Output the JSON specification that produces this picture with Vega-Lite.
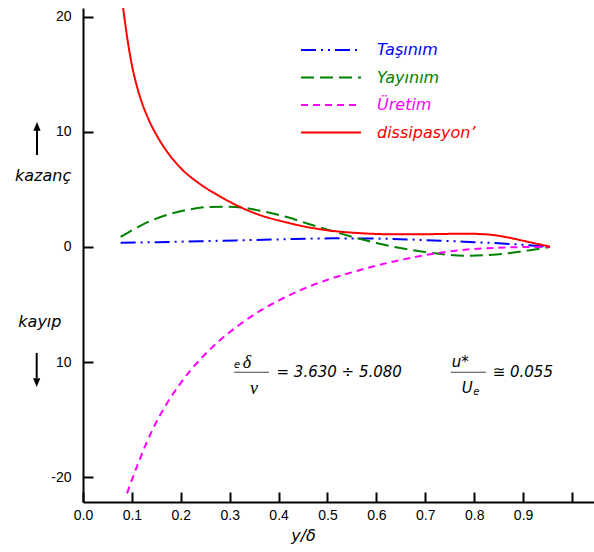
{
  "$schema": "https://vega.github.io/schema/vega-lite/v6.json",
  "autosize": {"type": "none"},
  "padding": {"left": 83, "top": 8, "right": 0, "bottom": 50},
  "width": 511,
  "height": 494,
  "background": "white",
  "config": {"view": {"stroke": null}},
  "datasets": {
    "curves": [
      {"x": 0.077, "y": 0.37, "series": "Taşınım"},
      {"x": 0.15, "y": 0.42, "series": "Taşınım"},
      {"x": 0.26, "y": 0.52, "series": "Taşınım"},
      {"x": 0.4, "y": 0.66, "series": "Taşınım"},
      {"x": 0.51, "y": 0.75, "series": "Taşınım"},
      {"x": 0.6, "y": 0.73, "series": "Taşınım"},
      {"x": 0.7, "y": 0.6, "series": "Taşınım"},
      {"x": 0.78, "y": 0.46, "series": "Taşınım"},
      {"x": 0.887, "y": 0.23, "series": "Taşınım"},
      {"x": 0.955, "y": 0.0, "series": "Taşınım"},
      {"x": 0.077, "y": 0.87, "series": "Yayınım"},
      {"x": 0.1, "y": 1.45, "series": "Yayınım"},
      {"x": 0.123, "y": 1.97, "series": "Yayınım"},
      {"x": 0.171, "y": 2.78, "series": "Yayınım"},
      {"x": 0.21, "y": 3.2, "series": "Yayınım"},
      {"x": 0.26, "y": 3.48, "series": "Yayınım"},
      {"x": 0.3, "y": 3.5, "series": "Yayınım"},
      {"x": 0.33, "y": 3.4, "series": "Yayınım"},
      {"x": 0.37, "y": 3.08, "series": "Yayınım"},
      {"x": 0.417, "y": 2.6, "series": "Yayınım"},
      {"x": 0.46, "y": 2.02, "series": "Yayınım"},
      {"x": 0.51, "y": 1.38, "series": "Yayınım"},
      {"x": 0.56, "y": 0.77, "series": "Yayınım"},
      {"x": 0.6, "y": 0.35, "series": "Yayınım"},
      {"x": 0.64, "y": -0.02, "series": "Yayınım"},
      {"x": 0.71, "y": -0.49, "series": "Yayınım"},
      {"x": 0.78, "y": -0.76, "series": "Yayınım"},
      {"x": 0.846, "y": -0.65, "series": "Yayınım"},
      {"x": 0.914, "y": -0.28, "series": "Yayınım"},
      {"x": 0.955, "y": 0.0, "series": "Yayınım"},
      {"x": 0.09, "y": -21.4, "series": "Üretim"},
      {"x": 0.11, "y": -19.1, "series": "Üretim"},
      {"x": 0.13, "y": -17.0, "series": "Üretim"},
      {"x": 0.15, "y": -15.2, "series": "Üretim"},
      {"x": 0.17, "y": -13.7, "series": "Üretim"},
      {"x": 0.2, "y": -11.8, "series": "Üretim"},
      {"x": 0.24, "y": -9.75, "series": "Üretim"},
      {"x": 0.28, "y": -8.1, "series": "Üretim"},
      {"x": 0.32, "y": -6.75, "series": "Üretim"},
      {"x": 0.36, "y": -5.6, "series": "Üretim"},
      {"x": 0.4, "y": -4.65, "series": "Üretim"},
      {"x": 0.45, "y": -3.65, "series": "Üretim"},
      {"x": 0.5, "y": -2.85, "series": "Üretim"},
      {"x": 0.55, "y": -2.2, "series": "Üretim"},
      {"x": 0.6, "y": -1.62, "series": "Üretim"},
      {"x": 0.65, "y": -1.12, "series": "Üretim"},
      {"x": 0.7, "y": -0.7, "series": "Üretim"},
      {"x": 0.75, "y": -0.38, "series": "Üretim"},
      {"x": 0.8, "y": -0.17, "series": "Üretim"},
      {"x": 0.85, "y": -0.06, "series": "Üretim"},
      {"x": 0.9, "y": -0.01, "series": "Üretim"},
      {"x": 0.955, "y": 0.0, "series": "Üretim"},
      {"x": 0.0745, "y": 23.5, "series": "dissipasyon’"},
      {"x": 0.082, "y": 20.8, "series": "dissipasyon’"},
      {"x": 0.09, "y": 18.3, "series": "dissipasyon’"},
      {"x": 0.1, "y": 15.8, "series": "dissipasyon’"},
      {"x": 0.11, "y": 14.0, "series": "dissipasyon’"},
      {"x": 0.12, "y": 12.6, "series": "dissipasyon’"},
      {"x": 0.135, "y": 11.0, "series": "dissipasyon’"},
      {"x": 0.15, "y": 9.75, "series": "dissipasyon’"},
      {"x": 0.17, "y": 8.4, "series": "dissipasyon’"},
      {"x": 0.2, "y": 6.85, "series": "dissipasyon’"},
      {"x": 0.24, "y": 5.45, "series": "dissipasyon’"},
      {"x": 0.28, "y": 4.4, "series": "dissipasyon’"},
      {"x": 0.32, "y": 3.5, "series": "dissipasyon’"},
      {"x": 0.36, "y": 2.8, "series": "dissipasyon’"},
      {"x": 0.41, "y": 2.2, "series": "dissipasyon’"},
      {"x": 0.46, "y": 1.72, "series": "dissipasyon’"},
      {"x": 0.51, "y": 1.4, "series": "dissipasyon’"},
      {"x": 0.56, "y": 1.22, "series": "dissipasyon’"},
      {"x": 0.64, "y": 1.1, "series": "dissipasyon’"},
      {"x": 0.72, "y": 1.12, "series": "dissipasyon’"},
      {"x": 0.78, "y": 1.16, "series": "dissipasyon’"},
      {"x": 0.83, "y": 1.08, "series": "dissipasyon’"},
      {"x": 0.87, "y": 0.82, "series": "dissipasyon’"},
      {"x": 0.91, "y": 0.45, "series": "dissipasyon’"},
      {"x": 0.955, "y": 0.03, "series": "dissipasyon’"}
    ],
    "side": [
      {"x": -0.139, "y": 5.73, "text": "kazanç"},
      {"x": -0.1323, "y": -6.92, "text": "kayıp"}
    ],
    "formula": [
      {"x": 0.3957, "y": -11.32, "text": "= 3.630 ÷ 5.080"},
      {"x": 0.8378, "y": -11.32, "text": "≅ 0.055"},
      {"x": 0.7539, "y": -10.39, "text": "u*"},
      {"x": 0.7744, "y": -12.7, "text": "U"}
    ],
    "subs": [
      {"x": 0.3088, "y": -10.53, "text": "e"},
      {"x": 0.7982, "y": -12.85, "text": "e"}
    ],
    "greek": [
      {"x": 0.3266, "y": -10.53, "text": "δ"},
      {"x": 0.3415, "y": -12.77, "text": "ν"}
    ],
    "bars": [
      {"x": 0.3089, "x2": 0.3804, "y": -10.88},
      {"x": 0.7519, "x2": 0.8241, "y": -10.88}
    ],
    "shafts": [
      {"x": -0.0941, "y": 7.99, "y2": 10.16},
      {"x": -0.0947, "y": -9.2, "y2": -11.38}
    ],
    "heads": [
      {"x": -0.0941, "y": 10.37, "dir": "up"},
      {"x": -0.0947, "y": -11.67, "dir": "down"}
    ]
  },
  "layer": [
    {
      "mark": {"type": "rule", "color": "#222222", "strokeWidth": 2},
      "encoding": {"y": {"datum": 0, "type": "quantitative", "scale": {"domain": [-22.15, 20.76], "nice": false, "zero": false}}}
    },
    {
      "data": {"name": "curves"},
      "mark": {"type": "line", "strokeWidth": 2, "clip": true, "interpolate": "monotone"},
      "encoding": {
        "x": {
          "field": "x", "type": "quantitative",
          "scale": {"domain": [0, 1.045], "nice": false, "zero": false},
          "axis": {
            "values": [0, 0.1, 0.2, 0.3, 0.4, 0.5, 0.6, 0.7, 0.8, 0.9, 1.0],
            "labelExpr": "datum.value >= 0.99 ? '' : format(datum.value, '.1f')",
            "grid": false, "tickSize": -10, "tickWidth": 2, "tickColor": "black",
            "domainColor": "black", "domainWidth": 2,
            "labelFont": "Liberation Sans", "labelFontSize": 14, "labelColor": "black",
            "labelPadding": 16, "labelFlush": false,
            "title": "y/δ", "titleFont": "DejaVu Sans", "titleFontStyle": "italic",
            "titleFontWeight": "normal", "titleFontSize": 16, "titleColor": "black",
            "titleX": 220, "titleY": 38, "titleBaseline": "alphabetic", "titleAlign": "center"
          }
        },
        "y": {
          "field": "y", "type": "quantitative",
          "scale": {"domain": [-22.15, 20.76], "nice": false, "zero": false},
          "axis": {
            "values": [-20, -10, 0, 10, 20],
            "labelExpr": "datum.value == -10 ? '10' : (datum.value == -20 ? '-20' : datum.label)",
            "grid": false, "tickSize": -10, "tickWidth": 2, "tickColor": "black",
            "domainColor": "black", "domainWidth": 2,
            "labelFont": "Liberation Sans", "labelFontSize": 14, "labelColor": "black",
            "labelPadding": 22, "title": null
          }
        },
        "color": {
          "field": "series", "type": "nominal",
          "scale": {"domain": ["Taşınım", "Yayınım", "Üretim", "dissipasyon’"], "range": ["#0000ff", "#008000", "#ff00ff", "#ff0000"]},
          "legend": {
            "orient": "none", "legendX": 240, "legendY": 34, "title": null, "padding": 0,
            "symbolType": "M-6,0H6", "symbolSize": 100, "symbolStrokeWidth": 2,
            "labelFont": "DejaVu Sans", "labelFontStyle": "italic", "labelFontSize": 16,
            "labelOffset": 38, "rowPadding": 11.5,
            "encode": {"labels": {"update": {"fill": {"scale": "color", "field": "value"}}}}
          }
        },
        "strokeDash": {
          "field": "series", "type": "nominal",
          "scale": {"domain": ["Taşınım", "Yayınım", "Üretim", "dissipasyon’"], "range": [[15, 5, 2, 5, 2, 5], [13, 6], [7, 5], [1, 0]]},
          "legend": {
            "orient": "none", "legendX": 240, "legendY": 34, "title": null, "padding": 0,
            "symbolType": "M-6,0H6", "symbolSize": 100, "symbolStrokeWidth": 2,
            "labelFont": "DejaVu Sans", "labelFontStyle": "italic", "labelFontSize": 16,
            "labelOffset": 38, "rowPadding": 11.5,
            "encode": {"labels": {"update": {"fill": {"scale": "color", "field": "value"}}}}
          }
        }
      }
    },
    {
      "data": {"name": "side"},
      "mark": {"type": "text", "align": "left", "baseline": "alphabetic", "font": "DejaVu Sans", "fontStyle": "italic", "fontSize": 16, "color": "black"},
      "encoding": {"x": {"field": "x", "type": "quantitative"}, "y": {"field": "y", "type": "quantitative"}, "text": {"field": "text"}}
    },
    {
      "data": {"name": "formula"},
      "mark": {"type": "text", "align": "left", "baseline": "alphabetic", "font": "DejaVu Sans", "fontStyle": "italic", "fontSize": 15, "color": "black"},
      "encoding": {"x": {"field": "x", "type": "quantitative"}, "y": {"field": "y", "type": "quantitative"}, "text": {"field": "text"}}
    },
    {
      "data": {"name": "subs"},
      "mark": {"type": "text", "align": "left", "baseline": "alphabetic", "font": "DejaVu Sans", "fontStyle": "italic", "fontSize": 10, "color": "black"},
      "encoding": {"x": {"field": "x", "type": "quantitative"}, "y": {"field": "y", "type": "quantitative"}, "text": {"field": "text"}}
    },
    {
      "data": {"name": "greek"},
      "mark": {"type": "text", "align": "left", "baseline": "alphabetic", "font": "Liberation Serif", "fontStyle": "italic", "fontSize": 18, "color": "black"},
      "encoding": {"x": {"field": "x", "type": "quantitative"}, "y": {"field": "y", "type": "quantitative"}, "text": {"field": "text"}}
    },
    {
      "data": {"name": "bars"},
      "mark": {"type": "rule", "color": "#444444", "strokeWidth": 1},
      "encoding": {"x": {"field": "x", "type": "quantitative"}, "x2": {"field": "x2"}, "y": {"field": "y", "type": "quantitative"}}
    },
    {
      "data": {"name": "shafts"},
      "mark": {"type": "rule", "color": "black", "strokeWidth": 2},
      "encoding": {"x": {"field": "x", "type": "quantitative"}, "y": {"field": "y", "type": "quantitative"}, "y2": {"field": "y2"}}
    },
    {
      "data": {"name": "heads"},
      "mark": {"type": "point", "filled": true, "color": "black", "size": 64, "opacity": 1},
      "encoding": {
        "x": {"field": "x", "type": "quantitative"},
        "y": {"field": "y", "type": "quantitative"},
        "shape": {"field": "dir", "type": "nominal", "scale": {"domain": ["up", "down"], "range": ["M0,-1.4L-0.9,0.8L0.9,0.8Z", "M0,1.4L-0.9,-0.8L0.9,-0.8Z"]}, "legend": null}
      }
    }
  ]
}
